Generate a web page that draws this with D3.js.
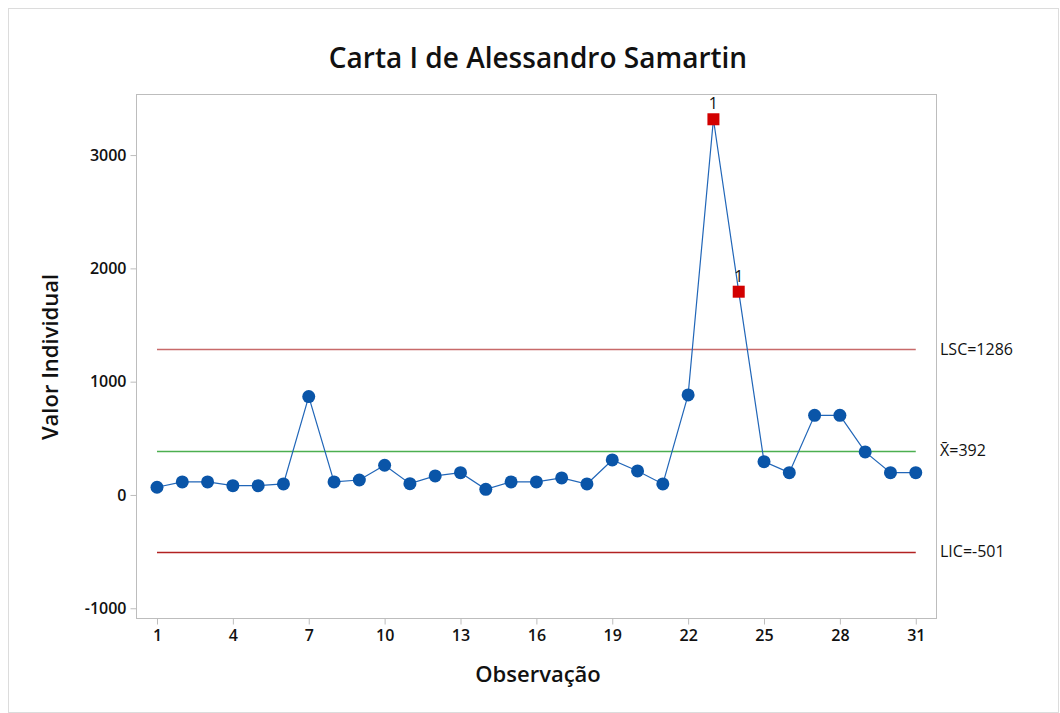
<!DOCTYPE html>
<html lang="pt">
  <head>
    <meta charset="utf-8">
    <title>Carta I de Alessandro Samartin</title>
    <script src="https://unpkg.com/d3@7/dist/d3.min.js"></script>
    <style type="text/css">
      body, html {
        margin: 0;
        padding: 0;
        background: #fff;
        font-family: "Open Sans", "Noto Sans", sans-serif;
      }
    </style>
  </head>
  <body>
    <script type="text/javascript">
      const observations = d3.range(1, 32);
      const values = [68, 115, 115, 82, 82, 97, 868, 115, 132, 262,
                      100, 168, 197, 50, 115, 115, 150, 97, 309, 212,
                      97, 883, 3316, 1794, 294, 197, 703, 703, 380, 197, 197];
      const outOfControl = [23, 24];
      const xTicks = [1, 4, 7, 10, 13, 16, 19, 22, 25, 28, 31];
      const yTicks = [-1000, 0, 1000, 2000, 3000];
      const limits = [
        {name: "LSC", value: 1286, label: "LSC=1286", color: "#c86a6a"},
        {name: "media", value: 392, label: "X\u0304=392", color: "#4caf50"},
        {name: "LIC", value: -501, label: "LIC=-501", color: "#b22222"}
      ];

      const w = 1060, h = 713;
      const plot = {left: 136, right: 936, top: 94, bottom: 618};

      const svg = d3.select("body")
        .append("svg")
        .attr("width", w)
        .attr("height", h);

      // outer light border
      svg.append("rect")
        .attr("x", 8.5).attr("y", 8.5)
        .attr("width", w - 10).attr("height", h - 9)
        .attr("fill", "#fff")
        .attr("stroke", "#dcdcdc");

      const x = d3.scaleLinear()
        .domain([0.17, 31.8])
        .range([plot.left, plot.right]);

      const y = d3.scaleLinear()
        .domain([-1086, 3539])
        .range([plot.bottom, plot.top]);

      // title
      svg.append("text")
        .attr("x", 538).attr("y", 68)
        .attr("text-anchor", "middle")
        .style("font-size", "28px")
        .style("font-weight", 600)
        .attr("fill", "#111")
        .text("Carta I de Alessandro Samartin");

      // frame
      svg.append("rect")
        .attr("x", plot.left + 0.5).attr("y", plot.top + 0.5)
        .attr("width", plot.right - plot.left)
        .attr("height", plot.bottom - plot.top)
        .attr("fill", "none")
        .attr("stroke", "#bdbdbd");

      // axes
      const yAxis = svg.append("g")
        .attr("transform", "translate(" + (plot.left + 0.5) + ",0)")
        .call(d3.axisLeft(y).tickValues(yTicks).tickFormat(d => String(d))
          .tickSize(6).tickPadding(4));
      const xAxis = svg.append("g")
        .attr("transform", "translate(0," + (plot.bottom + 0.5) + ")")
        .call(d3.axisBottom(x).tickValues(xTicks).tickFormat(d => String(d))
          .tickSize(6).tickPadding(5));

      [yAxis, xAxis].forEach(function(g) {
        g.select(".domain").remove();
        g.selectAll(".tick line").attr("stroke", "#bdbdbd");
        g.selectAll(".tick text")
          .attr("fill", "#111")
          .style("font-size", "16px")
          .style("font-weight", 600)
          .style("font-family", "'Open Sans', sans-serif");
      });

      // axis titles
      svg.append("text")
        .attr("x", 538).attr("y", 682)
        .attr("text-anchor", "middle")
        .style("font-size", "22px")
        .style("font-weight", 600)
        .attr("fill", "#111")
        .text("Observação");

      svg.append("text")
        .attr("transform", "translate(58," + 357 + ") rotate(-90)")
        .attr("text-anchor", "middle")
        .style("font-size", "22px")
        .style("font-weight", 600)
        .attr("fill", "#111")
        .text("Valor Individual");

      // control limit lines
      svg.selectAll(".limit")
        .data(limits)
        .enter()
        .append("line")
        .attr("class", "limit")
        .attr("x1", x(1)).attr("x2", x(31))
        .attr("y1", d => Math.round(y(d.value)) + 0.5)
        .attr("y2", d => Math.round(y(d.value)) + 0.5)
        .attr("stroke", d => d.color)
        .attr("stroke-width", 1.3);

      svg.selectAll(".limit-label")
        .data(limits)
        .enter()
        .append("text")
        .attr("class", "limit-label")
        .attr("x", plot.right + 4)
        .attr("y", d => y(d.value))
        .attr("dy", "0.35em")
        .style("font-size", "16px")
        .attr("fill", "#111")
        .text(d => d.label);

      // data line
      const pts = observations.map((o, i) => ({obs: o, value: values[i]}));

      svg.append("path")
        .datum(pts)
        .attr("fill", "none")
        .attr("stroke", "#2166b8")
        .attr("stroke-width", 1.2)
        .attr("d", d3.line().x(d => x(d.obs)).y(d => y(d.value)));

      // in-control points
      svg.selectAll(".pt")
        .data(pts.filter(d => outOfControl.indexOf(d.obs) < 0))
        .enter()
        .append("circle")
        .attr("class", "pt")
        .attr("cx", d => x(d.obs))
        .attr("cy", d => y(d.value))
        .attr("r", 6.5)
        .attr("fill", "#0a55a8");

      // out-of-control points
      const bad = pts.filter(d => outOfControl.indexOf(d.obs) >= 0);
      svg.selectAll(".bad")
        .data(bad)
        .enter()
        .append("rect")
        .attr("class", "bad")
        .attr("x", d => x(d.obs) - 6)
        .attr("y", d => y(d.value) - 6)
        .attr("width", 12).attr("height", 12)
        .attr("fill", "#d20000");

      svg.selectAll(".bad-label")
        .data(bad)
        .enter()
        .append("text")
        .attr("class", "bad-label")
        .attr("x", d => x(d.obs))
        .attr("y", d => y(d.value) - 10)
        .attr("text-anchor", "middle")
        .style("font-size", "16px")
        .attr("fill", "#111")
        .text("1");
    </script>
  </body>
</html>
